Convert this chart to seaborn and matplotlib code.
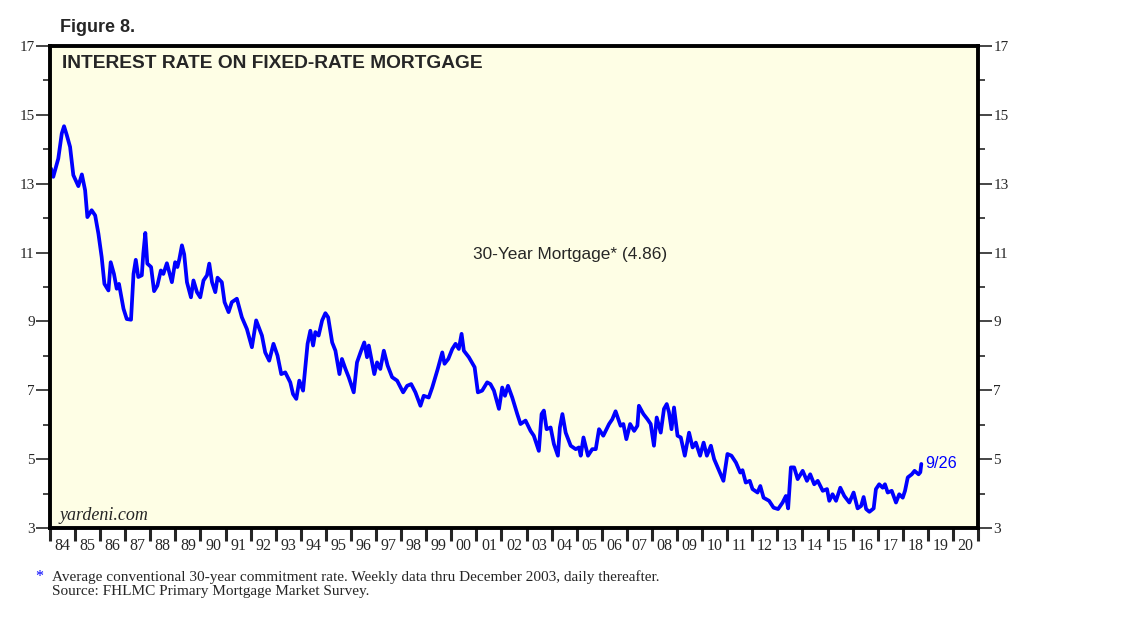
import matplotlib
matplotlib.use("Agg")
import matplotlib.pyplot as plt
import seaborn as sns
import pandas as pd
import numpy as np

# ---- data ----
years = [
    1984.04, 1984.13, 1984.33, 1984.47, 1984.56, 1984.67, 1984.80, 1984.93,
    1985.13, 1985.27, 1985.40, 1985.49, 1985.66, 1985.80, 1985.93,
    1986.06, 1986.17, 1986.33, 1986.42, 1986.55, 1986.66, 1986.75, 1986.93,
    1987.06, 1987.23, 1987.33, 1987.42, 1987.52, 1987.66, 1987.72, 1987.80, 1987.88,
    1988.03, 1988.15, 1988.28, 1988.42, 1988.52, 1988.66, 1988.86, 1988.99,
    1989.08, 1989.16, 1989.26, 1989.35, 1989.46, 1989.62, 1989.72, 1989.86, 1989.99,
    1990.12, 1990.26, 1990.35, 1990.46, 1990.59, 1990.68, 1990.85, 1990.96,
    1991.12, 1991.25, 1991.45, 1991.65, 1991.85,
    1992.05, 1992.22, 1992.45, 1992.58, 1992.74, 1992.91,
    1993.07, 1993.22, 1993.38, 1993.58, 1993.69, 1993.82, 1993.94,
    1994.09, 1994.27, 1994.38, 1994.49, 1994.58, 1994.71, 1994.85, 1994.98,
    1995.09, 1995.25, 1995.38, 1995.54, 1995.64, 1995.78, 1995.91,
    1996.11, 1996.24, 1996.38, 1996.53, 1996.64, 1996.71, 1996.93,
    1997.04, 1997.17, 1997.31, 1997.46, 1997.64, 1997.84,
    1998.08, 1998.24, 1998.40, 1998.57, 1998.77, 1998.90,
    1999.10, 1999.24, 1999.46, 1999.64, 1999.73, 1999.88,
    2000.04, 2000.17, 2000.30, 2000.41, 2000.50, 2000.70, 2000.93,
    2001.06, 2001.23, 2001.43, 2001.56, 2001.70, 2001.90,
    2002.03, 2002.14, 2002.26, 2002.43, 2002.63, 2002.76, 2002.96,
    2003.16, 2003.29, 2003.49, 2003.60, 2003.69, 2003.80, 2003.96,
    2004.09, 2004.25, 2004.33, 2004.43, 2004.56, 2004.76, 2004.96,
    2005.09, 2005.16, 2005.27, 2005.45, 2005.62, 2005.76, 2005.89,
    2006.06, 2006.29, 2006.42, 2006.55, 2006.75, 2006.86, 2006.98,
    2007.13, 2007.29, 2007.42, 2007.48, 2007.66, 2007.82, 2007.95,
    2008.08, 2008.19, 2008.35, 2008.48, 2008.59, 2008.68, 2008.78, 2008.88,
    2009.02, 2009.15, 2009.31, 2009.48, 2009.62, 2009.75, 2009.92,
    2010.06, 2010.19, 2010.35, 2010.48, 2010.68, 2010.85,
    2011.01, 2011.17, 2011.35, 2011.52, 2011.61, 2011.74, 2011.90,
    2012.01, 2012.21, 2012.32, 2012.45, 2012.67, 2012.85,
    2013.03, 2013.21, 2013.34, 2013.43, 2013.54, 2013.67, 2013.81,
    2014.01, 2014.18, 2014.31, 2014.47, 2014.61, 2014.81, 2014.98,
    2015.07, 2015.20, 2015.34, 2015.51, 2015.67, 2015.87,
    2016.04, 2016.20, 2016.34, 2016.44, 2016.54, 2016.67, 2016.84, 2016.93,
    2017.06, 2017.20, 2017.29, 2017.40, 2017.56, 2017.73, 2017.86,
    2018.00, 2018.09, 2018.20, 2018.36, 2018.47, 2018.63, 2018.70, 2018.74,
]
rates = [
    13.44, 13.20, 13.73, 14.46, 14.67, 14.41, 14.07, 13.25,
    12.93, 13.27, 12.81, 12.03, 12.23, 12.08, 11.55,
    10.87, 10.09, 9.90, 10.72, 10.38, 9.95, 10.09, 9.37,
    9.07, 9.05, 10.38, 10.79, 10.29, 10.34, 10.97, 11.57, 10.68,
    10.58, 9.88, 10.04, 10.48, 10.38, 10.69, 10.14, 10.72,
    10.58, 10.82, 11.21, 10.95, 10.14, 9.70, 10.19, 9.85, 9.70,
    10.19, 10.34, 10.68, 10.14, 9.85, 10.27, 10.14, 9.56,
    9.27, 9.56, 9.66, 9.12, 8.78,
    8.25, 9.03, 8.59, 8.10, 7.86, 8.35,
    8.01, 7.47, 7.52, 7.23, 6.89, 6.75, 7.28,
    6.99, 8.35, 8.73, 8.30, 8.69, 8.59, 9.03, 9.24,
    9.12, 8.39, 8.15, 7.47, 7.91, 7.62, 7.38,
    6.94, 7.81, 8.10, 8.39, 7.96, 8.30, 7.47,
    7.81, 7.62, 8.15, 7.72, 7.38, 7.28,
    6.94, 7.13, 7.18, 6.94, 6.55, 6.84,
    6.79, 7.08, 7.62, 8.10, 7.77, 7.91,
    8.20, 8.35, 8.20, 8.64, 8.15, 7.96, 7.67,
    6.94, 6.99, 7.23, 7.18, 6.99, 6.46,
    7.08, 6.84, 7.13, 6.79, 6.31, 6.02, 6.12,
    5.82, 5.68, 5.24, 6.31, 6.41, 5.87, 5.92,
    5.44, 5.10, 5.92, 6.31, 5.77, 5.39, 5.29,
    5.34, 5.10, 5.63, 5.10, 5.29, 5.29, 5.87,
    5.68, 6.02, 6.16, 6.39, 5.97, 6.02, 5.58,
    6.02, 5.82, 5.97, 6.55, 6.31, 6.16, 6.02,
    5.39, 6.21, 5.77, 6.46, 6.60, 6.36, 5.87, 6.50,
    5.68, 5.63, 5.10, 5.77, 5.34, 5.48, 5.10,
    5.48, 5.10, 5.39, 5.00, 4.66, 4.37,
    5.15, 5.10, 4.90, 4.61, 4.68, 4.32, 4.37,
    4.13, 4.03, 4.22, 3.88, 3.79, 3.59,
    3.55, 3.74, 3.93, 3.57, 4.76, 4.76, 4.42,
    4.66, 4.37, 4.56, 4.27, 4.37, 4.08, 4.13,
    3.79, 3.98, 3.79, 4.17, 3.93, 3.74,
    4.03, 3.57, 3.64, 3.90, 3.55, 3.47, 3.57, 4.13,
    4.27, 4.17, 4.27, 4.03, 4.08, 3.74, 3.98,
    3.88, 4.08, 4.47, 4.56, 4.66, 4.56, 4.62, 4.86,
]
year_labels = ["84", "85", "86", "87", "88", "89", "90", "91", "92", "93",
               "94", "95", "96", "97", "98", "99", "00", "01", "02", "03",
               "04", "05", "06", "07", "08", "09", "10", "11", "12", "13",
               "14", "15", "16", "17", "18", "19", "20"]
y_major = [3, 5, 7, 9, 11, 13, 15, 17]
y_minor = [4, 6, 8, 10, 12, 14, 16]

title = "INTEREST RATE ON FIXED-RATE MORTGAGE"
series_label = "30-Year Mortgage* (4.86)"
last_label = "9/26"

df = pd.DataFrame({"year": years, "rate": rates})

sns.set_style("ticks")
plt.rcParams["font.family"] = ["Liberation Sans", "DejaVu Sans"]

fig = plt.figure(figsize=(11.38, 6.24), dpi=100)
ax = fig.add_axes([50 / 1138, 1 - 528 / 624, 928 / 1138, 482 / 624])
ax.set_facecolor("#FEFEE5")

sns.lineplot(data=df, x="year", y="rate", ax=ax, color="#0000FF", linewidth=2.7)

ax.set_xlim(1984, 2021)
ax.set_ylim(3, 17)
ax.set_xlabel("")
ax.set_ylabel("")

for s in ax.spines.values():
    s.set_linewidth(2.8)
    s.set_color("black")
    s.set_visible(True)

serif = ["Liberation Serif", "DejaVu Serif"]

# y ticks on both sides
ax.set_yticks(y_major)
ax.set_yticks(y_minor, minor=True)
ax.set_yticklabels([str(v) for v in y_major], fontfamily=serif, fontsize=11)
ax.tick_params(axis="y", which="major", direction="out", length=10, width=1.2,
               left=True, right=True, labelleft=True, labelright=True, pad=1)
ax.tick_params(axis="y", which="minor", direction="out", length=5, width=1.2,
               left=True, right=True)

# x ticks: year boundaries, labels centered between ticks
first = 1984
ax.set_xticks([first + i for i in range(len(year_labels) + 1)])
ax.set_xticklabels([])
ax.set_xticks([first + i + 0.5 for i in range(len(year_labels))], minor=True)
ax.set_xticklabels(year_labels, minor=True, fontfamily=serif, fontsize=11.5)
ax.tick_params(axis="x", which="major", direction="out", length=9, width=2.2)
ax.tick_params(axis="x", which="minor", length=0, pad=7)

# texts
fig.text(60 / 1138, 1 - 27 / 624, "Figure 8.", fontsize=13, fontweight="bold",
         va="center", ha="left")
ax.text(12 / 928, 1 - 17 / 482, title, transform=ax.transAxes, fontsize=13.8,
        fontweight="bold", va="center", ha="left")
ax.text(520 / 928, 274 / 482, series_label, transform=ax.transAxes, fontsize=12.4,
        va="center", ha="center")
ax.annotate(last_label, xy=(years[-1], rates[-1]), xytext=(3, 0),
            textcoords="offset points", color="#0000FF", fontsize=11.7,
            va="center", ha="left")
ax.text(10 / 928, 12 / 482, "yardeni.com", transform=ax.transAxes, fontsize=13,
        fontstyle="italic", fontfamily=serif, va="center", ha="left")

fig.text(35 / 1138, 1 - 577 / 624, "*", color="#0000FF", fontsize=11.5,
         fontfamily=serif, va="center", ha="left")
fig.text(52 / 1138, 1 - 577 / 624,
         "Average conventional 30-year commitment rate. Weekly data thru December 2003, daily thereafter.",
         fontsize=11, fontfamily=serif, va="center", ha="left")
fig.text(52 / 1138, 1 - 591 / 624, "Source: FHLMC Primary Mortgage Market Survey.",
         fontsize=11, fontfamily=serif, va="center", ha="left")

fig.savefig("out.png", dpi=100, facecolor="white")
